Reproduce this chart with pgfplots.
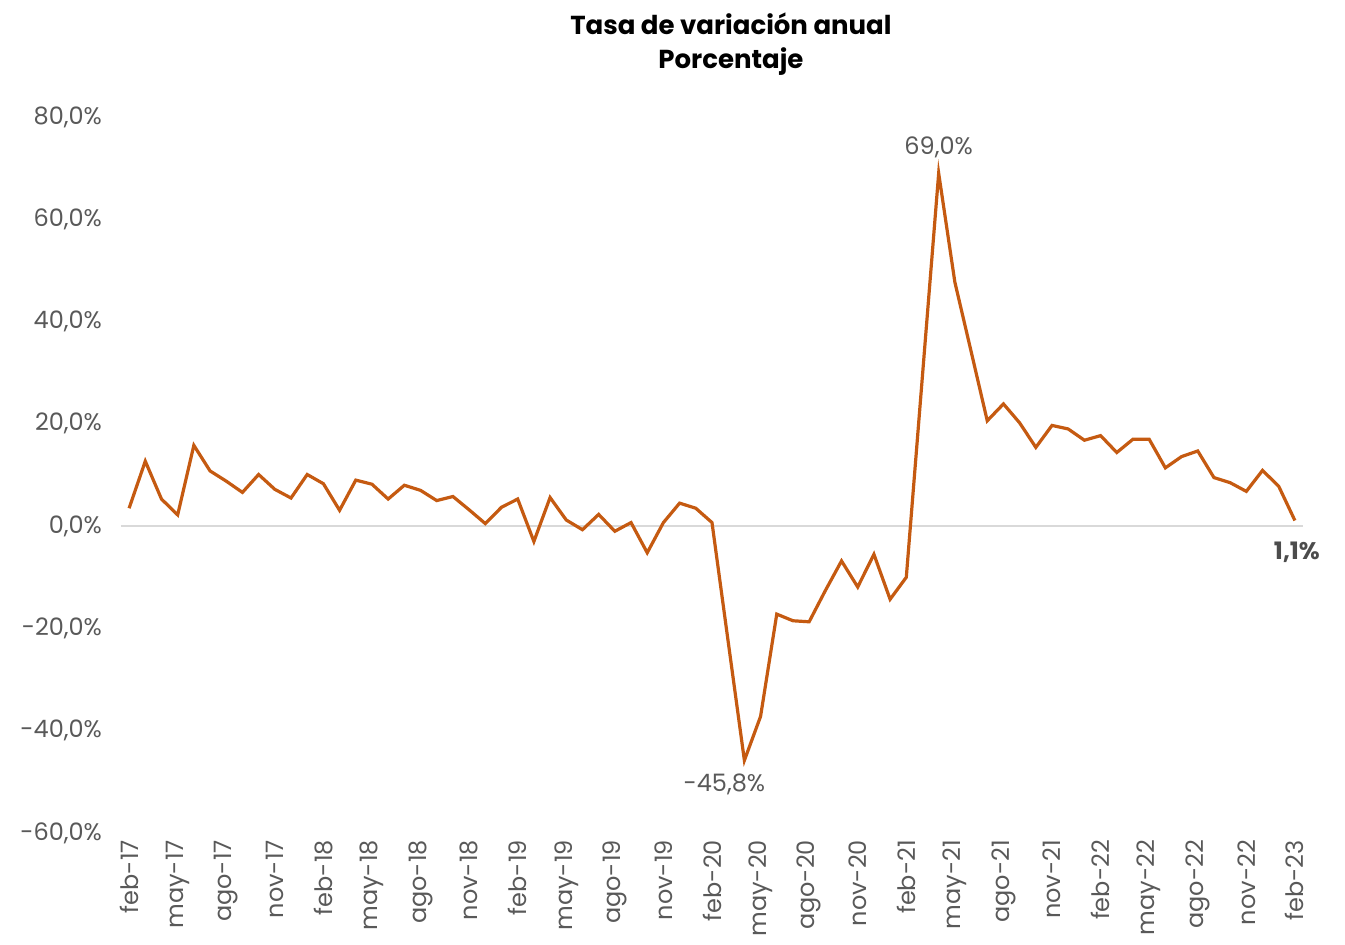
\documentclass[border=0pt]{standalone}
\usepackage{pgfplots}
\pgfplotsset{compat=1.18}
\usepackage{fontspec}
\setmainfont{Poppins}
\definecolor{lineorange}{HTML}{C55A11}
\definecolor{ticktext}{HTML}{595959}
\definecolor{zeroline}{HTML}{D9D9D9}
\begin{document}
\begin{tikzpicture}
\begin{axis}[scale only axis,width=591pt,height=358pt,
  xmin=-0.5,xmax=72.5,ymin=-60,ymax=80,
  axis line style={draw=none},major tick length=0pt,
  xtick={0,3,...,72},
  xticklabels={feb-17,may-17,ago-17,nov-17,feb-18,may-18,ago-18,nov-18,feb-19,may-19,ago-19,nov-19,feb-20,may-20,ago-20,nov-20,feb-21,may-21,ago-21,nov-21,feb-22,may-22,ago-22,nov-22,feb-23},
  ytick={-60,-40,...,80},
  yticklabels={{-60,0\%},{-40,0\%},{-20,0\%},{0,0\%},{20,0\%},{40,0\%},{60,0\%},{80,0\%}},
  tick label style={font=\fontsize{12}{14}\selectfont,text=ticktext},
  xticklabel style={rotate=90,anchor=east,yshift=0pt},
  yticklabel style={xshift=-6pt},
  clip=false]
\draw[zeroline,line width=1pt] (axis cs:-0.5,0) -- (axis cs:72.5,0);
\addplot[lineorange,line width=1.6pt,mark=none] coordinates {
(0,3.5) (1,12.7) (2,5.3) (3,2.2) (4,15.8) (5,10.8) (6,8.8) (7,6.6) (8,10.1) (9,7.2)
(10,5.5) (11,10.1) (12,8.3) (13,3.1) (14,9.0) (15,8.2) (16,5.3) (17,8.0) (18,7.0) (19,5.0)
(20,5.8) (21,3.2) (22,0.5) (23,3.7) (24,5.3) (25,-3.0) (26,5.6) (27,1.2) (28,-0.7) (29,2.3)
(30,-1.0) (31,0.7) (32,-5.2) (33,0.7) (34,4.5) (35,3.5) (36,0.7) (37,-22.6) (38,-45.8) (39,-37.2)
(40,-17.2) (41,-18.5) (42,-18.7) (43,-12.6) (44,-6.8) (45,-11.9) (46,-5.5) (47,-14.3) (48,-10.0) (49,29.5)
(50,69.0) (51,47.7) (52,34.2) (53,20.6) (54,23.9) (55,20.2) (56,15.4) (57,19.7) (58,19.0) (59,16.8)
(60,17.7) (61,14.4) (62,17.0) (63,17.0) (64,11.4) (65,13.6) (66,14.7) (67,9.5) (68,8.5) (69,6.8)
(70,10.9) (71,7.8) (72,1.1)};
\node[anchor=south,font=\fontsize{12}{14}\selectfont,text=ticktext,yshift=4pt] at (axis cs:50,69.0) {69,0\%};
\node[anchor=north,font=\fontsize{12}{14}\selectfont,text=ticktext,yshift=-3pt,xshift=-10pt] at (axis cs:38,-45.8) {-45,8\%};
\node[anchor=north,font=\fontsize{12}{14}\selectfont\bfseries,text=ticktext!85!black,yshift=-7pt,xshift=1pt] at (axis cs:72,1.1) {1,1\%};
\node[align=center,font=\fontsize{13}{17}\selectfont\bfseries,yshift=36.5pt] at (rel axis cs:0.516,1) {Tasa de variación anual\\Porcentaje};
\end{axis}
\pgfresetboundingbox
\path (-60.5pt,-55.5pt) rectangle (612pt,416.5pt);
\end{tikzpicture}
\end{document}
